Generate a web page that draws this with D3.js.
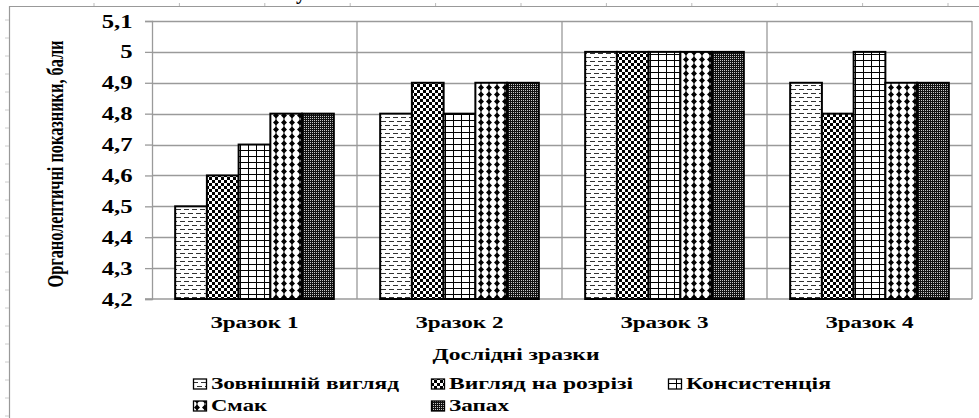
<!DOCTYPE html>
<html>
<head>
<meta charset="utf-8">
<script src="https://cdn.jsdelivr.net/npm/d3@7"></script>
<style>
  body { margin: 0; background: #fff; }
  svg { display: block; }
  svg text { font-family: "Liberation Serif", "Times New Roman", Tinos, "DejaVu Serif", serif; }
</style>
</head>
<body>
<svg id="chart" width="979" height="418"></svg>
<script>
// дані діаграми
const categories = ["Зразок 1", "Зразок 2", "Зразок 3", "Зразок 4"];
const seriesNames = ["Зовнішній вигляд", "Вигляд на розрізі", "Консистенція", "Смак", "Запах"];
const vneshniy = [4.5, 4.8, 5.0, 4.9];
const rozriz = [4.6, 4.9, 5.0, 4.8];
const konsyst = [4.7, 4.8, 5.0, 5.0];
const smak = [4.8, 4.9, 5.0, 4.9];
const zapakh = [4.8, 4.9, 5.0, 4.9];
const yTicks = [4.2, 4.3, 4.4, 4.5, 4.6, 4.7, 4.8, 4.9, 5.0, 5.1];
const yTitle = "Органолептичні показники, бали";
const xTitle = "Дослідні зразки";

const seriesValues = [vneshniy, rozriz, konsyst, smak, zapakh];
const table = categories.map((c, i) => ({
    cat: c,
    vals: seriesNames.map((s, k) => ({ name: s, k: k, v: seriesValues[k][i] }))
}));

const svg = d3.select("#chart");
const margin = { top: 21, right: 7, bottom: 119, left: 152 };
const W = 979, H = 418;
const gridColor = "#9a9a9a";

// візерунки заливки
const defs = svg.append("defs");
const pat = (id, w, h, bg) => {
    const p = defs.append("pattern").attr("id", id)
        .attr("patternUnits", "userSpaceOnUse").attr("width", w).attr("height", h);
    p.append("rect").attr("width", w).attr("height", h).attr("fill", bg || "#fff");
    return p;
};
const p0 = pat("p0", 8, 8);
p0.append("path").attr("d", "M0,1.5H5M4,5.5H8M0,5.5H1").attr("stroke", "#333").attr("stroke-width", 1);
const p1 = pat("p1", 6, 6);
p1.append("rect").attr("width", 3).attr("height", 3).attr("fill", "#000");
p1.append("rect").attr("x", 3).attr("y", 3).attr("width", 3).attr("height", 3).attr("fill", "#000");
const p2 = pat("p2", 8, 6);
p2.append("path").attr("d", "M0.5,0V6M0,0.5H8").attr("stroke", "#000").attr("stroke-width", 1);
const p3 = pat("p3", 8, 7);
p3.append("path").attr("d", "M4,0.5L7,3.5L4,6.5L1,3.5Z").attr("fill", "#000");
p3.append("rect").attr("x", 3.5).attr("y", 0).attr("width", 1).attr("height", 7).attr("fill", "#000");
const p4 = pat("p4", 2, 2, "#111");
p4.append("rect").attr("width", 1).attr("height", 1).attr("fill", "#c8c8c8");
const fills = ["url(#p0)", "url(#p1)", "url(#p2)", "url(#p3)", "url(#p4)"];

// рамка сторінки
svg.append("line").attr("x1", 9).attr("x2", W).attr("y1", 6.5).attr("y2", 6.5)
    .attr("stroke", "#999").attr("stroke-width", 1.2);
svg.append("line").attr("x1", 9.5).attr("x2", 9.5).attr("y1", 6).attr("y2", H)
    .attr("stroke", "#999").attr("stroke-width", 1.2);
svg.selectAll(".rt").data(d3.range(94, W, 85.4)).enter().append("line")
    .attr("x1", d => d).attr("x2", d => d).attr("y1", 3).attr("y2", 6)
    .attr("stroke", "#bbb");
svg.selectAll(".lt").data(d3.range(20, H, 18)).enter().append("line")
    .attr("x1", 5).attr("x2", 9).attr("y1", d => d).attr("y2", d => d)
    .attr("stroke", "#ccc");
svg.append("text").attr("x", 296).attr("y", -1).attr("font-size", 20)
    .attr("font-weight", "bold").text("у");

// шкали
const x0 = d3.scaleBand().domain(categories).range([margin.left, W - margin.right]);
const x1 = d3.scaleBand().domain(seriesNames).range([0, x0.bandwidth()])
    .paddingInner(0).paddingOuter(0.73);
const y = d3.scaleLinear().domain([4.2, 5.1]).range([H - margin.bottom, margin.top]);
const fmt = d => String(+d.toFixed(1)).replace(".", ",");

// сітка
svg.append("g").selectAll("line").data(yTicks.slice(1)).enter().append("line")
    .attr("x1", margin.left).attr("x2", W - margin.right)
    .attr("y1", d => Math.round(y(d)) + 0.5).attr("y2", d => Math.round(y(d)) + 0.5)
    .attr("stroke", gridColor).attr("stroke-width", 1.3);
svg.append("g").selectAll("line").data(categories.slice(1).concat(["end"])).enter().append("line")
    .attr("x1", d => d === "end" ? W - margin.right : x0(d))
    .attr("x2", d => d === "end" ? W - margin.right : x0(d))
    .attr("y1", y(5.1)).attr("y2", y(4.2))
    .attr("stroke", gridColor).attr("stroke-width", 1.3);

// вісь Y
const yAxis = svg.append("g").attr("transform", `translate(${margin.left},0)`)
    .call(d3.axisLeft(y).tickValues(yTicks).tickFormat(fmt).tickSize(7).tickPadding(8))
    .attr("font-family", null);
yAxis.select(".domain").attr("stroke", gridColor).attr("stroke-width", 1.3);
yAxis.selectAll(".tick line").attr("stroke", gridColor).attr("stroke-width", 1.3);
yAxis.selectAll(".tick text").attr("fill", "#000")
    .attr("font-size", 19).attr("font-weight", "bold")
    .attr("transform", "scale(1.3,1)");
svg.append("line").attr("x1", margin.left - 7).attr("x2", W - margin.right)
    .attr("y1", y(4.2)).attr("y2", y(4.2)).attr("stroke", gridColor).attr("stroke-width", 1.3);

// стовпці
const groups = svg.append("g").selectAll("g").data(table).enter().append("g")
    .attr("transform", d => `translate(${x0(d.cat)},0)`);
groups.selectAll("rect").data(d => d.vals).enter().append("rect")
    .attr("x", d => x1(d.name))
    .attr("y", d => y(d.v))
    .attr("width", x1.bandwidth())
    .attr("height", d => y(4.2) - y(d.v))
    .attr("fill", d => fills[d.k])
    .attr("stroke", "#000").attr("stroke-width", 2);

// підписи категорій
svg.append("g").selectAll("text").data(categories).enter().append("text")
    .attr("x", d => x0(d) + x0.bandwidth() / 2).attr("y", 328)
    .attr("text-anchor", "middle").attr("font-size", 17).attr("font-weight", "bold")
    .attr("textLength", 88).attr("lengthAdjust", "spacingAndGlyphs")
    .text(d => d);

// назви осей
svg.append("text").attr("x", 516).attr("y", 360).attr("text-anchor", "middle")
    .attr("font-size", 17).attr("font-weight", "bold")
    .attr("textLength", 167).attr("lengthAdjust", "spacingAndGlyphs").text(xTitle);
svg.append("text").attr("transform", "translate(63,164) scale(1.3,1) rotate(-90)")
    .attr("text-anchor", "middle").attr("font-size", 17).attr("font-weight", "bold")
    .attr("textLength", 247).attr("lengthAdjust", "spacingAndGlyphs").text(yTitle);

// легенда
const legendPos = [[193, 389, 188], [431, 389, 184], [668, 389, 145], [193, 411, 56], [431, 411, 60]];
const leg = svg.append("g").selectAll("g").data(seriesNames).enter().append("g")
    .attr("transform", (d, i) => `translate(${legendPos[i][0]},${legendPos[i][1]})`);
leg.append("rect").attr("x", 0.5).attr("y", -10).attr("width", 13).attr("height", 10)
    .attr("fill", (d, i) => fills[i]).attr("stroke", "#000").attr("stroke-width", 1.3);
leg.append("text").attr("x", 18).attr("y", 0).attr("font-size", 16).attr("font-weight", "bold")
    .attr("textLength", (d, i) => legendPos[i][2]).attr("lengthAdjust", "spacingAndGlyphs")
    .text(d => d);
</script>
</body>
</html>
